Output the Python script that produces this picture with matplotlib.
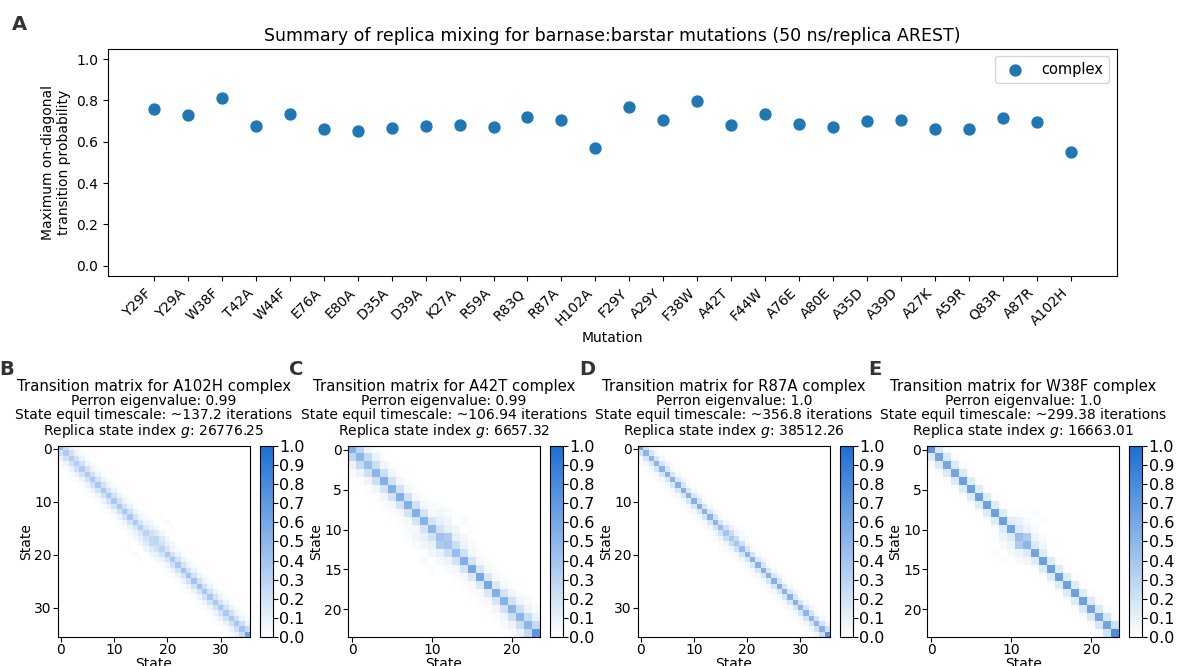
import numpy as np
import matplotlib.pyplot as plt
from matplotlib.colors import LinearSegmentedColormap

# --- summary scatter data (panel A) ---
mutations = ["Y29F", "Y29A", "W38F", "T42A", "W44F", "E76A", "E80A", "D35A",
             "D39A", "K27A", "R59A", "R83Q", "R87A", "H102A", "F29Y", "A29Y",
             "F38W", "A42T", "F44W", "A76E", "A80E", "A35D", "A39D", "A27K",
             "A59R", "Q83R", "A87R", "A102H"]
max_diag_prob = [0.757, 0.728, 0.813, 0.675, 0.737, 0.660, 0.650, 0.667,
                 0.676, 0.680, 0.672, 0.718, 0.705, 0.569, 0.768, 0.705,
                 0.797, 0.681, 0.733, 0.686, 0.672, 0.703, 0.704, 0.662,
                 0.660, 0.713, 0.698, 0.551]

# --- transition matrices (panels B-E): band values per state ---
a102h_diag = [0.45, 0.35, 0.33, 0.34, 0.35, 0.36, 0.37, 0.38, 0.38, 0.38, 0.37, 0.38,
              0.38, 0.37, 0.36, 0.33, 0.30, 0.27, 0.27, 0.31, 0.36, 0.38, 0.39, 0.40,
              0.40, 0.40, 0.40, 0.39, 0.39, 0.38, 0.38, 0.37, 0.37, 0.38, 0.40, 0.62]
a102h_off1 = [0.22, 0.21, 0.21, 0.21, 0.20, 0.20, 0.20, 0.20, 0.20, 0.20, 0.20, 0.20,
              0.20, 0.19, 0.18, 0.17, 0.20, 0.27, 0.20, 0.18, 0.19, 0.20, 0.20, 0.20,
              0.20, 0.20, 0.20, 0.20, 0.20, 0.20, 0.20, 0.21, 0.21, 0.22, 0.25]
a102h_off2 = [0.08] * 15 + [0.10, 0.14, 0.14, 0.10] + [0.08] * 15
a102h_off3 = [0.025] * 14 + [0.05, 0.06, 0.06, 0.06, 0.05] + [0.025] * 14
a102h_extra = [(14, 20, 0.03), (20, 14, 0.03), (15, 21, 0.02), (21, 15, 0.02),
               (13, 19, 0.02), (19, 13, 0.02)]

a42t_diag = [0.55, 0.50, 0.45, 0.50, 0.55, 0.55, 0.55, 0.55, 0.55, 0.53, 0.50, 0.42,
             0.40, 0.45, 0.55, 0.60, 0.60, 0.60, 0.55, 0.52, 0.50, 0.50, 0.50, 0.72]
a42t_off1 = [0.28, 0.25, 0.22, 0.22, 0.20, 0.20, 0.20, 0.20, 0.18, 0.18, 0.20, 0.36,
             0.22, 0.20, 0.18, 0.16, 0.16, 0.16, 0.18, 0.20, 0.22, 0.24, 0.25]
a42t_off2 = [0.09, 0.08, 0.07, 0.06, 0.06, 0.05, 0.05, 0.05, 0.05, 0.10, 0.10, 0.10,
             0.08, 0.05, 0.05, 0.04, 0.04, 0.05, 0.06, 0.07, 0.08, 0.09]
a42t_off3 = [0.03, 0.02, 0.02, 0.02, 0.02, 0.02, 0.02, 0.03, 0.06, 0.06, 0.06, 0.05,
             0.03, 0.02, 0.02, 0.02, 0.02, 0.02, 0.02, 0.03, 0.03]
a42t_extra = [(8, 12, 0.03), (12, 8, 0.03), (9, 14, 0.03), (14, 9, 0.03),
              (10, 15, 0.02), (15, 10, 0.02), (7, 11, 0.02), (11, 7, 0.02)]

r87a_diag = [0.62, 0.50, 0.50, 0.50, 0.52, 0.52, 0.52, 0.53, 0.53, 0.53, 0.53, 0.53,
             0.53, 0.52, 0.50, 0.46, 0.40, 0.38, 0.40, 0.46, 0.50, 0.52, 0.53, 0.53,
             0.53, 0.53, 0.53, 0.52, 0.52, 0.52, 0.50, 0.50, 0.50, 0.50, 0.52, 0.72]
r87a_off1 = [0.20, 0.18, 0.18, 0.18, 0.17, 0.17, 0.17, 0.17, 0.17, 0.17, 0.17, 0.17,
             0.17, 0.18, 0.19, 0.21, 0.24, 0.24, 0.21, 0.19, 0.18, 0.17, 0.17, 0.17,
             0.17, 0.17, 0.17, 0.17, 0.17, 0.18, 0.18, 0.19, 0.19, 0.20, 0.22]
r87a_off2 = [0.05] * 14 + [0.06, 0.08, 0.08, 0.06] + [0.05] * 16
r87a_off3 = [0.01] * 14 + [0.03, 0.03, 0.03, 0.03] + [0.01] * 15
r87a_extra = [(15, 19, 0.01), (19, 15, 0.01)]

w38f_diag = [0.72, 0.62, 0.60, 0.62, 0.65, 0.65, 0.65, 0.65, 0.65, 0.65, 0.62, 0.45,
             0.50, 0.62, 0.65, 0.65, 0.65, 0.65, 0.65, 0.65, 0.62, 0.60, 0.62, 0.78]
w38f_off1 = [0.16, 0.16, 0.15, 0.15, 0.14, 0.14, 0.14, 0.14, 0.14, 0.14, 0.15, 0.36,
             0.15, 0.14, 0.14, 0.14, 0.14, 0.14, 0.14, 0.15, 0.16, 0.17, 0.20]
w38f_off2 = [0.03, 0.03, 0.02, 0.02, 0.02, 0.02, 0.02, 0.02, 0.02, 0.08, 0.08, 0.08,
             0.06, 0.02, 0.02, 0.02, 0.02, 0.02, 0.02, 0.03, 0.03, 0.03]
w38f_off3 = [0.0] * 8 + [0.02, 0.04, 0.04, 0.03] + [0.0] * 9
w38f_extra = [(9, 14, 0.02), (14, 9, 0.02), (8, 13, 0.02), (13, 8, 0.02)]


def build_matrix(diag, off1, off2, off3, extra):
    mat = np.diag(diag)
    for k, band in ((1, off1), (2, off2), (3, off3)):
        mat = mat + np.diag(band, k) + np.diag(band, -k)
    for i, j, v in extra:
        mat[i, j] = v
    return mat


panels = [
    ("B", "A102H", "0.99", "137.2", "26776.25",
     build_matrix(a102h_diag, a102h_off1, a102h_off2, a102h_off3, a102h_extra)),
    ("C", "A42T", "0.99", "106.94", "6657.32",
     build_matrix(a42t_diag, a42t_off1, a42t_off2, a42t_off3, a42t_extra)),
    ("D", "R87A", "1.0", "356.8", "38512.26",
     build_matrix(r87a_diag, r87a_off1, r87a_off2, r87a_off3, r87a_extra)),
    ("E", "W38F", "1.0", "299.38", "16663.01",
     build_matrix(w38f_diag, w38f_off1, w38f_off2, w38f_off3, w38f_extra)),
]

cmap = LinearSegmentedColormap.from_list("wb", ["#ffffff", "#1b6fd4"])

fig = plt.figure(figsize=(11.77, 6.66), dpi=100)

# panel A
ax = fig.add_axes([0.0918, 0.5856, 0.857, 0.341])
xpos = np.arange(len(mutations))
ax.scatter(xpos, max_diag_prob, s=62, color="#1f77b4", label="complex")
ax.set_xlim(-1.35, len(mutations) + 0.35)
ax.set_ylim(-0.05, 1.05)
ax.set_yticks(np.arange(0, 1.01, 0.2))
ax.set_xticks(xpos)
ax.set_xticklabels(mutations, rotation=45, ha="right", fontsize=10)
ax.tick_params(axis="y", labelsize=10)
ax.set_xlabel("Mutation", fontsize=10, labelpad=2)
ax.set_ylabel("Maximum on-diagonal\ntransition probability", fontsize=10)
ax.set_title("Summary of replica mixing for barnase:barstar mutations (50 ns/replica AREST)",
             fontsize=12.5)
ax.legend(loc="upper right", fontsize=10.5)
fig.text(0.010, 0.955, "A", fontsize=14, fontweight="bold", color="#333333")

# panels B-E
lefts = [0.0493, 0.2957, 0.542, 0.788]
for (letter, name, perron, tscale, gidx, mat), left in zip(panels, lefts):
    hax = fig.add_axes([left, 0.0435, 0.163, 0.287])
    im = hax.imshow(mat, cmap=cmap, vmin=0, vmax=1, aspect="auto")
    hax.set_xlabel("State", fontsize=10, labelpad=0)
    hax.set_ylabel("State", fontsize=10, labelpad=1)
    hax.tick_params(labelsize=10, pad=1)
    hax.set_title(f"Perron eigenvalue: {perron}\n"
                  f"State equil timescale: ~{tscale} iterations\n"
                  f"Replica state index $g$: {gidx}",
                  fontsize=10, linespacing=1.0, pad=8)
    hax.annotate(f"Transition matrix for {name} complex", xy=(0.5, 1.0),
                 xycoords="axes fraction", xytext=(0, 43), textcoords="offset points",
                 ha="center", va="center", fontsize=10.7)
    cax = fig.add_axes([left + 0.163 + 0.0085, 0.0435, 0.011, 0.287])
    cb = fig.colorbar(im, cax=cax)
    cb.set_ticks(np.arange(0, 1.01, 0.1))
    cb.ax.tick_params(labelsize=11.5, pad=1)
    fig.text(left - 0.05, 0.437, letter, fontsize=14, fontweight="bold", color="#333333")

fig.savefig("out.png", dpi=100)
